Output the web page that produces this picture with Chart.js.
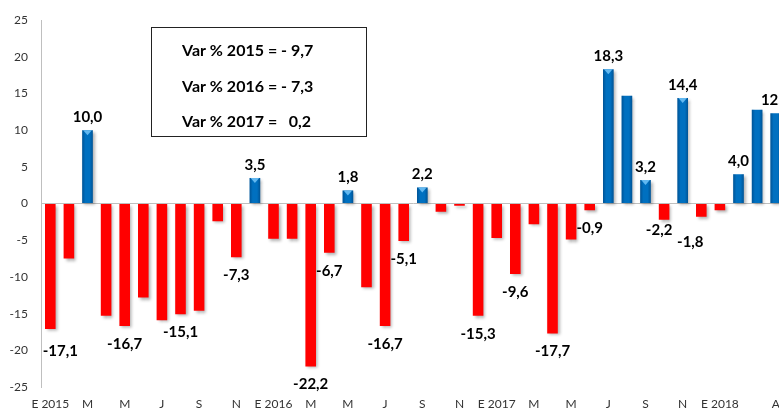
<!DOCTYPE html>
<html>
<head>
<meta charset="utf-8">
<script src="https://cdn.jsdelivr.net/npm/chart.js@4.4.1/dist/chart.umd.min.js"></script>
<style>
  html, body { margin: 0; padding: 0; background: #fff; overflow: hidden; }
  #wrap { width: 790px; height: 409px; }
</style>
</head>
<body>
<div id="wrap"><canvas id="chart" width="790" height="409"></canvas></div>
<script>
// meses ene 2015 - abr 2018
const months = [
  'E 2015', 'F', 'M', 'A', 'M', 'J', 'J', 'A', 'S', 'O', 'N', 'D',
  'E 2016', 'F', 'M', 'A', 'M', 'J', 'J', 'A', 'S', 'O', 'N', 'D',
  'E 2017', 'F', 'M', 'A', 'M', 'J', 'J', 'A', 'S', 'O', 'N', 'D',
  'E 2018', 'F', 'M', 'A'
];

// etiquetas que se ven en el eje
const tickLabels = [
  'E 2015', '', 'M', '', 'M', '', 'J', '', 'S', '', 'N', '',
  'E 2016', '', 'M', '', 'M', '', 'J', '', 'S', '', 'N', '',
  'E 2017', '', 'M', '', 'M', '', 'J', '', 'S', '', 'N', '',
  'E 2018', '', '', 'A'
];

// variación % interanual
const values = [
  -17.1, -7.5, 10.0, -15.3, -16.7, -12.8, -15.9, -15.1, -14.6, -2.4, -7.3, 3.5,
  -4.8, -4.8, -22.2, -6.7, 1.8, -11.4, -16.7, -5.1, 2.2, -1.1, -0.3, -15.3,
  -4.7, -9.6, -2.8, -17.7, -4.9, -0.9, 18.3, 14.7, 3.2, -2.2, 14.4, -1.8,
  -0.9, 4.0, 12.8, 12.3
];

// barras con valor rotulado
const labelled = [0, 2, 4, 7, 10, 11, 14, 15, 16, 18, 19, 20, 23, 25, 27, 29, 30, 32, 33, 34, 35, 37, 39];

const boxLines = ['Var % 2015 = - 9,7', 'Var % 2016 = - 7,3', 'Var % 2017 =   0,2'];

const RED = '#ff0000';
const BLUE = '#0070c0';
const FONT = 'Lato, "Open Sans", sans-serif';

// pequeños ajustes de posición de algunos rótulos
const labelNudge = { 0: [10, 4], 33: [-5, -8], 35: [-11, 7] };

const barStyle = {
    id: 'barStyle',
    beforeDatasetsDraw(chart) {
        const ctx = chart.ctx;
        ctx.save();
        ctx.shadowColor = 'rgba(0, 0, 0, 0.3)';
        ctx.shadowOffsetX = 2;
        ctx.shadowOffsetY = 2;
        ctx.shadowBlur = 3;
    },
    afterDatasetsDraw(chart) {
        const ctx = chart.ctx;
        ctx.restore();
        const meta = chart.getDatasetMeta(0);
        meta.data.forEach((bar, i) => {
            if (values[i] <= 0) return;
            const left = bar.x - bar.width / 2;
            const top = bar.y;
            const h = bar.base - bar.y;
            const g = ctx.createLinearGradient(left, 0, left + bar.width, 0);
            g.addColorStop(0, 'rgba(0, 30, 70, 0.35)');
            g.addColorStop(0.3, 'rgba(0, 30, 70, 0)');
            g.addColorStop(0.7, 'rgba(0, 30, 70, 0)');
            g.addColorStop(1, 'rgba(0, 30, 70, 0.35)');
            ctx.fillStyle = g;
            ctx.fillRect(left, top, bar.width, h);
            if (labelled.includes(i) && i < 36) {
                ctx.fillStyle = '#62b8f0';
                ctx.beginPath();
                ctx.moveTo(left + 1, top);
                ctx.lineTo(left + bar.width - 1, top);
                ctx.lineTo(bar.x, top + 5);
                ctx.closePath();
                ctx.fill();
            }
        });
    }
};

const valueLabels = {
    id: 'valueLabels',
    afterDraw(chart) {
        const ctx = chart.ctx;
        const meta = chart.getDatasetMeta(0);
        ctx.save();
        ctx.font = 'bold 15px ' + FONT;
        ctx.fillStyle = '#000';
        ctx.textAlign = 'center';
        ctx.textBaseline = 'middle';
        labelled.forEach(i => {
            const bar = meta.data[i];
            const v = values[i];
            const nudge = labelNudge[i] || [0, 0];
            const y = v >= 0 ? bar.y - 13 : bar.y + 18;
            ctx.fillText(v.toFixed(1).replace('.', ','), bar.x + nudge[0], y + nudge[1]);
        });

        // cuadro con las variaciones anuales
        ctx.strokeStyle = '#222';
        ctx.lineWidth = 1;
        ctx.strokeRect(151.5, 27.5, 215, 109);
        ctx.font = 'bold 16px ' + FONT;
        ctx.textAlign = 'left';
        boxLines.forEach((t, k) => {
            ctx.fillText(t, 182, 51 + k * 35.5);
        });
        ctx.restore();
    }
};

new Chart(document.getElementById('chart'), {
    type: 'bar',
    data: {
        labels: months,
        datasets: [{
            data: values,
            backgroundColor: values.map(v => v < 0 ? RED : BLUE),
            borderWidth: 0,
            categoryPercentage: 1,
            barPercentage: 0.57
        }]
    },
    options: {
        responsive: false,
        animation: false,
        devicePixelRatio: 1,
        layout: {
            padding: { top: 19, right: 5, left: 0, bottom: 0 }
        },
        plugins: {
            legend: { display: false },
            tooltip: { enabled: false }
        },
        scales: {
            x: {
                grid: { display: false },
                border: { display: false },
                ticks: {
                    autoSkip: false,
                    maxRotation: 0,
                    padding: 2,
                    color: '#333',
                    font: { family: FONT, size: 12 },
                    callback: (v, i) => tickLabels[i]
                },
                afterFit: s => { s.height = 22; }
            },
            y: {
                min: -25,
                max: 25,
                ticks: {
                    stepSize: 5,
                    padding: 13,
                    color: '#333',
                    font: { family: FONT, size: 12 }
                },
                grid: {
                    drawTicks: false,
                    color: c => c.tick && c.tick.value === 0 ? '#bfbfbf' : 'rgba(0,0,0,0)'
                },
                border: { display: true, color: '#bfbfbf' },
                afterFit: s => { s.width = 41; }
            }
        }
    },
    plugins: [barStyle, valueLabels]
});
</script>
</body>
</html>
